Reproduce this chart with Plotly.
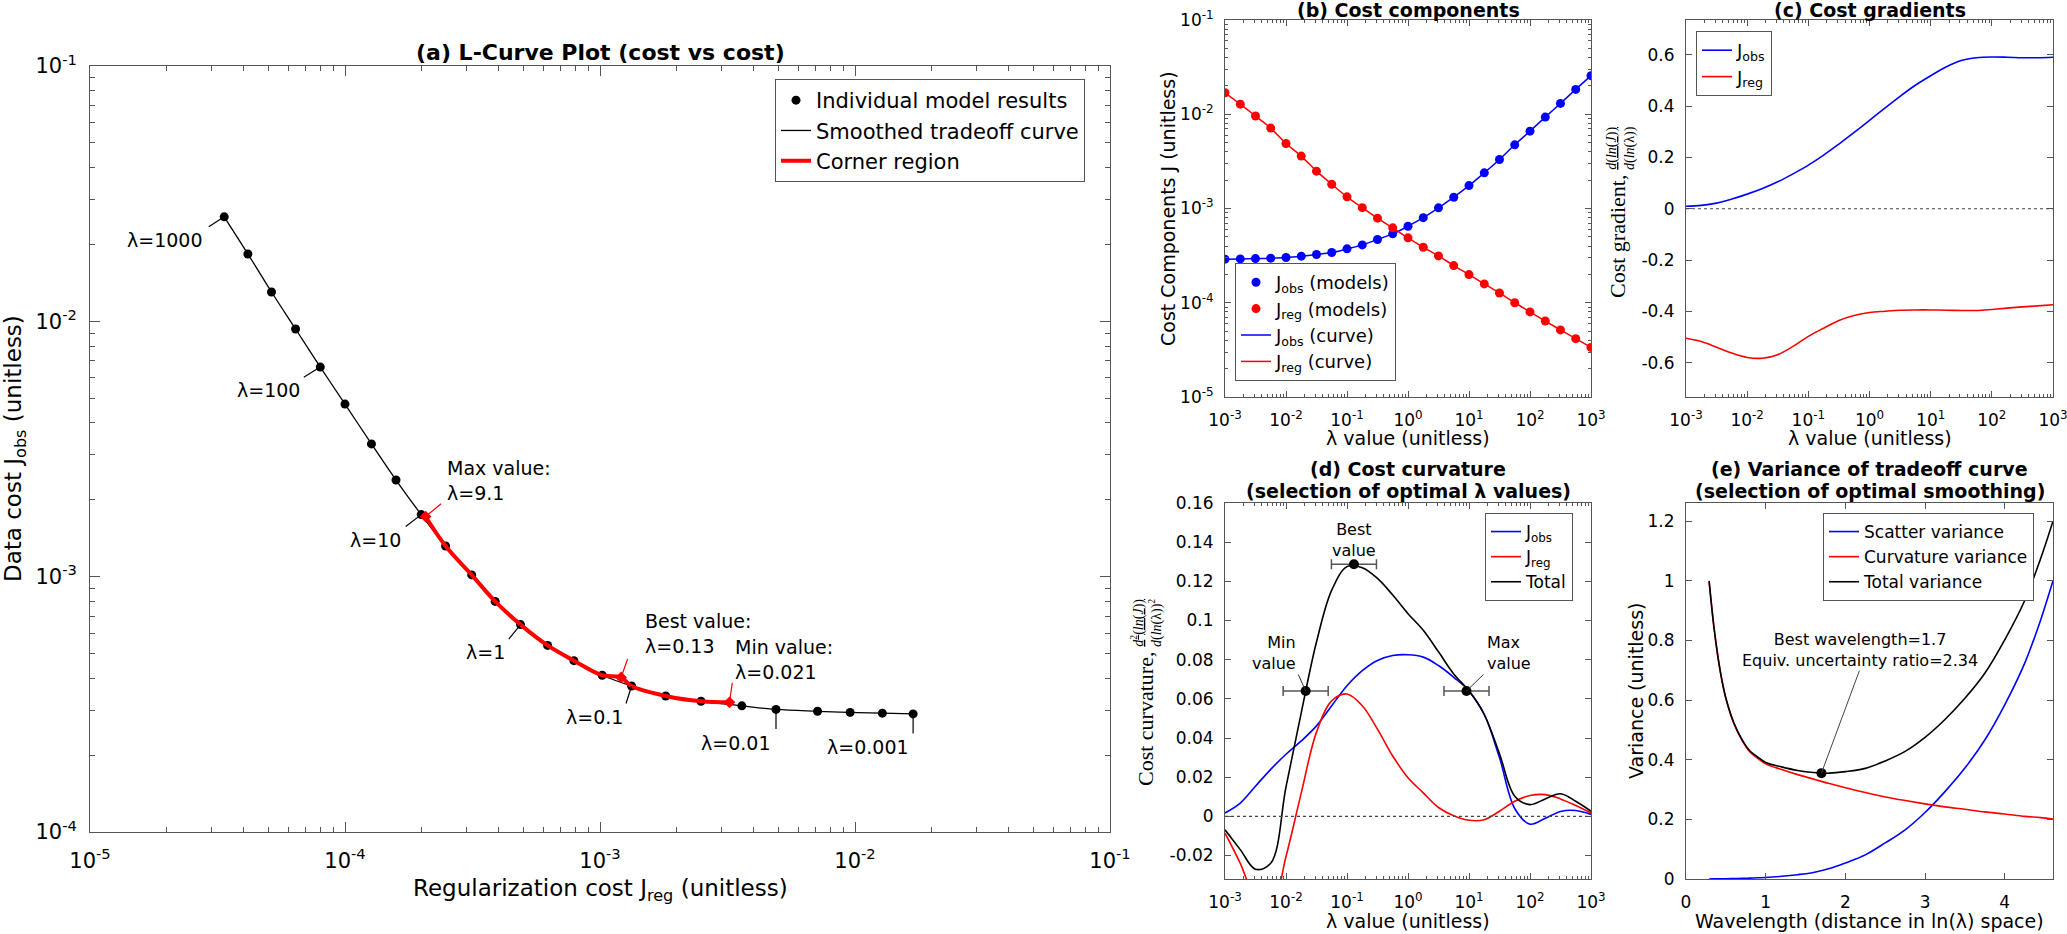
import numpy as np
import plotly.graph_objects as go

FONT = "DejaVu Sans"
SERIF = "Liberation Serif"
W, H = 2067, 934
AXC = "#555555"

# ---- data ----
# lambda of each model run (quarter decades)
lambdas = [0.001, 0.00178, 0.00316, 0.00562, 0.01, 0.0178, 0.0316, 0.0562, 0.1,
           0.178, 0.316, 0.562, 1, 1.78, 3.16, 5.62, 10, 17.8, 31.6, 56.2, 100,
           178, 316, 562, 1000]
j_obs = [2.90e-4, 2.92e-4, 2.94e-4, 2.97e-4, 3.02e-4, 3.12e-4, 3.25e-4, 3.41e-4,
         3.73e-4, 4.11e-4, 4.69e-4, 5.38e-4, 6.49e-4, 8.00e-4, 1.016e-3, 1.318e-3,
         1.75e-3, 2.39e-3, 3.31e-3, 4.74e-3, 6.62e-3, 9.33e-3, 1.303e-2, 1.836e-2,
         2.566e-2]
j_reg = [1.69e-2, 1.28e-2, 9.57e-3, 7.13e-3, 4.90e-3, 3.60e-3, 2.49e-3, 1.81e-3,
         1.33e-3, 1.02e-3, 7.9e-4, 6.23e-4, 4.88e-4, 3.88e-4, 3.14e-4, 2.48e-4,
         1.99e-4, 1.585e-4, 1.27e-4, 1.0e-4, 8.0e-5, 6.4e-5, 5.15e-5, 4.16e-5, 3.36e-5]

corner_lambda = [9.1, 0.13, 0.021]
corner_names = ["Max value:", "Best value:", "Min value:"]
corner_jreg = [2.07e-4, 1.21e-3, 3.22e-3]
corner_jobs = [1.72e-3, 4.03e-4, 3.22e-4]

label_lambda = [1000, 100, 10, 1, 0.1, 0.01, 0.001]
label_text = ["1000", "100", "10", "1", "0.1", "0.01", "0.001"]

grad_obs = [0.010, 0.013, 0.022, 0.038, 0.057, 0.079, 0.105, 0.136, 0.170, 0.209,
            0.252, 0.297, 0.344, 0.392, 0.438, 0.481, 0.518, 0.552, 0.577, 0.588,
            0.591, 0.590, 0.588, 0.588, 0.590]
grad_reg = [-0.504, -0.517, -0.539, -0.562, -0.579, -0.582, -0.568, -0.536, -0.497,
            -0.465, -0.435, -0.416, -0.404, -0.399, -0.395, -0.394, -0.394, -0.395,
            -0.396, -0.396, -0.392, -0.387, -0.382, -0.378, -0.374]

curv_obs = [0.0017, 0.0068, 0.0154, 0.024, 0.0317, 0.0385, 0.0462, 0.0565, 0.0667,
            0.0744, 0.0796, 0.0821, 0.0825, 0.0813, 0.077, 0.071, 0.064, 0.052, 0.030,
            0.004, -0.004, -0.001, 0.0025, 0.003, 0.001]
curv_reg = [-0.0086, -0.024, -0.042, -0.048, -0.0205, 0.012, 0.043, 0.059, 0.0625,
            0.0565, 0.0445, 0.0308, 0.0197, 0.012, 0.0045, 0.0003, -0.002, -0.0017,
            0.0026, 0.0077, 0.0106, 0.0111, 0.0089, 0.0055, 0.0017]
curv_tot = [-0.0069, -0.017, -0.027, -0.024, 0.015, 0.053, 0.089, 0.1155, 0.1275,
            0.127, 0.1215, 0.113, 0.1035, 0.095, 0.084, 0.0727, 0.064, 0.052, 0.032,
            0.0103, 0.006, 0.0089, 0.0115, 0.0077, 0.0026]

sel_lambda = [0.021, 0.13, 9.1]
sel_curv = [0.064, 0.1287, 0.064]
sel_names = ["Min<br>value", "Best<br>value", "Max<br>value"]
uncert_ratio = 2.34

wavelength = [0.29, 0.35, 0.4, 0.45, 0.5, 0.6, 0.7, 0.8, 0.9, 1.0, 1.2, 1.4, 1.6,
              1.8, 2.0, 2.25, 2.5, 2.75, 3.0, 3.25, 3.5, 3.75, 4.0, 4.25, 4.45, 4.606]
var_scatter = [0.0, 0.0003, 0.0005, 0.0007, 0.001, 0.0015, 0.002, 0.003, 0.004,
               0.005, 0.009, 0.0145, 0.022, 0.035, 0.054, 0.081, 0.121, 0.165, 0.223,
               0.293, 0.372, 0.466, 0.584, 0.723, 0.868, 1.0]
var_curv = [0.997, 0.846, 0.746, 0.667, 0.606, 0.522, 0.467, 0.427, 0.405, 0.386,
            0.367, 0.350, 0.335, 0.320, 0.306, 0.290, 0.275, 0.263, 0.252, 0.242,
            0.234, 0.225, 0.218, 0.210, 0.206, 0.201]
var_total = [1.0, 0.846, 0.747, 0.668, 0.607, 0.524, 0.469, 0.430, 0.409, 0.391,
             0.376, 0.364, 0.357, 0.355, 0.360, 0.371, 0.396, 0.428, 0.475, 0.535,
             0.606, 0.690, 0.802, 0.933, 1.074, 1.2]
best_wavelength = 1.7
best_var = 0.355

# tick labels
cost_x_ticks = [1e-5, 1e-4, 1e-3, 1e-2, 1e-1]
cost_x_text = ["10<sup>-5</sup>", "10<sup>-4</sup>", "10<sup>-3</sup>", "10<sup>-2</sup>", "10<sup>-1</sup>"]
cost_y_ticks = [1e-4, 1e-3, 1e-2, 1e-1]
cost_y_text = ["10<sup>-4</sup>", "10<sup>-3</sup>", "10<sup>-2</sup>", "10<sup>-1</sup>"]
lam_ticks = [1e-3, 1e-2, 1e-1, 1, 10, 100, 1000]
lam_text = ["10<sup>-3</sup>", "10<sup>-2</sup>", "10<sup>-1</sup>", "10<sup>0</sup>",
            "10<sup>1</sup>", "10<sup>2</sup>", "10<sup>3</sup>"]
comp_ticks = [1e-5, 1e-4, 1e-3, 1e-2, 1e-1]
comp_text = ["10<sup>-5</sup>", "10<sup>-4</sup>", "10<sup>-3</sup>", "10<sup>-2</sup>", "10<sup>-1</sup>"]
grad_ticks = [-0.6, -0.4, -0.2, 0, 0.2, 0.4, 0.6]
grad_text = ["-0.6", "-0.4", "-0.2", "0", "0.2", "0.4", "0.6"]
curv_ticks = [-0.02, 0, 0.02, 0.04, 0.06, 0.08, 0.1, 0.12, 0.14, 0.16]
curv_text = ["-0.02", "0", "0.02", "0.04", "0.06", "0.08", "0.1", "0.12", "0.14", "0.16"]
wl_ticks = [0, 1, 2, 3, 4]
wl_text = ["0", "1", "2", "3", "4"]
var_ticks = [0, 0.2, 0.4, 0.6, 0.8, 1.0, 1.2]
var_text = ["0", "0.2", "0.4", "0.6", "0.8", "1", "1.2"]


def minor_log(e0, e1):
    return [m * 10.0 ** e for e in range(e0, e1) for m in range(2, 10)]


def px(x):
    return x / W


def py(y):
    return 1 - y / H


def axis(dom, tickvals, ticktext, size, tlen, rng, log=False, minor=None, standoff=8, **kw):
    d = dict(domain=dom, range=rng, type="log" if log else "linear",
             tickmode="array", tickvals=tickvals, ticktext=ticktext,
             showline=True, linecolor=AXC, linewidth=1, mirror="ticks",
             ticks="inside", ticklen=tlen, tickcolor=AXC, tickwidth=1,
             showgrid=False, zeroline=False, automargin=False,
             ticklabelstandoff=standoff, ticklabeloverflow="allow",
             tickfont=dict(family=FONT, size=size, color="black"))
    if minor is not None:
        d["minor"] = dict(tickmode="array", tickvals=minor, ticks="inside",
                          ticklen=max(3, tlen // 2), tickcolor=AXC, tickwidth=1, showgrid=False)
    d.update(kw)
    return d


BLUE, RED = "#0000ff", "#ff0000"
fig = go.Figure()

# ---------------- (a) L-curve ----------------
fig.add_trace(go.Scatter(x=j_reg, y=j_obs, mode="lines", line=dict(color="black", width=1.3, shape="spline"),
                         name="Smoothed tradeoff curve", legend="legend", legendrank=2, xaxis="x", yaxis="y"))
fig.add_trace(go.Scatter(x=j_reg, y=j_obs, mode="markers", marker=dict(color="black", size=9),
                         name="Individual model results", legend="legend", legendrank=1, xaxis="x", yaxis="y"))
lam = np.array(lambdas)
inside = (lam > min(corner_lambda)) & (lam < max(corner_lambda))
c_lam = np.concatenate([lam[inside], corner_lambda])
c_x = np.concatenate([np.array(j_reg)[inside], corner_jreg])
c_y = np.concatenate([np.array(j_obs)[inside], corner_jobs])
order = np.argsort(c_lam)
fig.add_trace(go.Scatter(x=c_x[order], y=c_y[order], mode="lines", line=dict(color=RED, width=4, shape="spline"),
                         name="Corner region", legend="legend", legendrank=3, xaxis="x", yaxis="y"))
fig.add_trace(go.Scatter(x=corner_jreg, y=corner_jobs, mode="markers",
                         marker=dict(color=RED, size=9, symbol="diamond"), showlegend=False, xaxis="x", yaxis="y"))

# ---------------- (b) cost components ----------------
fig.add_trace(go.Scatter(x=lambdas, y=j_obs, mode="markers", marker=dict(color=BLUE, size=9),
                         name="J<sub>obs</sub> (models)", legend="legend2", xaxis="x2", yaxis="y2"))
fig.add_trace(go.Scatter(x=lambdas, y=j_reg, mode="markers", marker=dict(color=RED, size=9),
                         name="J<sub>reg</sub> (models)", legend="legend2", xaxis="x2", yaxis="y2"))
fig.add_trace(go.Scatter(x=lambdas, y=j_obs, mode="lines", line=dict(color=BLUE, width=1.5, shape="spline"),
                         name="J<sub>obs</sub> (curve)", legend="legend2", xaxis="x2", yaxis="y2"))
fig.add_trace(go.Scatter(x=lambdas, y=j_reg, mode="lines", line=dict(color=RED, width=1.5, shape="spline"),
                         name="J<sub>reg</sub> (curve)", legend="legend2", xaxis="x2", yaxis="y2"))

# ---------------- (c) cost gradients ----------------
fig.add_trace(go.Scatter(x=lambdas, y=grad_obs, mode="lines", line=dict(color=BLUE, width=1.6, shape="spline"),
                         name="J<sub>obs</sub>", legend="legend3", xaxis="x3", yaxis="y3"))
fig.add_trace(go.Scatter(x=lambdas, y=grad_reg, mode="lines", line=dict(color=RED, width=1.6, shape="spline"),
                         name="J<sub>reg</sub>", legend="legend3", xaxis="x3", yaxis="y3"))

# ---------------- (d) cost curvature ----------------
fig.add_trace(go.Scatter(x=lambdas, y=curv_obs, mode="lines", line=dict(color=BLUE, width=1.6, shape="spline"),
                         name="J<sub>obs</sub>", legend="legend4", xaxis="x4", yaxis="y4"))
fig.add_trace(go.Scatter(x=lambdas, y=curv_reg, mode="lines", line=dict(color=RED, width=1.6, shape="spline"),
                         name="J<sub>reg</sub>", legend="legend4", xaxis="x4", yaxis="y4"))
fig.add_trace(go.Scatter(x=lambdas, y=curv_tot, mode="lines", line=dict(color="black", width=1.6, shape="spline"),
                         name="Total", legend="legend4", xaxis="x4", yaxis="y4"))
sel = np.array(sel_lambda)
fig.add_trace(go.Scatter(x=sel_lambda, y=sel_curv, mode="markers", marker=dict(color="black", size=10),
                         error_x=dict(type="data", symmetric=False, array=sel * (uncert_ratio - 1),
                                      arrayminus=sel * (1 - 1 / uncert_ratio), color=AXC, thickness=1.5, width=5),
                         showlegend=False, xaxis="x4", yaxis="y4"))

# ---------------- (e) variance ----------------
fig.add_trace(go.Scatter(x=wavelength, y=var_scatter, mode="lines", line=dict(color=BLUE, width=1.6, shape="spline"),
                         name="Scatter variance", legend="legend5", xaxis="x5", yaxis="y5"))
fig.add_trace(go.Scatter(x=wavelength, y=var_curv, mode="lines", line=dict(color=RED, width=1.6, shape="spline"),
                         name="Curvature variance", legend="legend5", xaxis="x5", yaxis="y5"))
fig.add_trace(go.Scatter(x=wavelength, y=var_total, mode="lines", line=dict(color="black", width=1.6, shape="spline"),
                         name="Total variance", legend="legend5", xaxis="x5", yaxis="y5"))
fig.add_trace(go.Scatter(x=[best_wavelength], y=[best_var], mode="markers", marker=dict(color="black", size=10),
                         showlegend=False, xaxis="x5", yaxis="y5"))

# ---------------- annotations ----------------
ann = []


def text_ann(x, y, text, size, xref="paper", yref="paper", bold=False, angle=0, family=FONT,
             xanchor="center", yanchor="middle", align="center", xshift=0, yshift=0):
    if bold:
        text = "<b>" + text + "</b>"
    ann.append(dict(x=x, y=y, xref=xref, yref=yref, text=text, showarrow=False, textangle=angle,
                    font=dict(family=family, size=size, color="black"), xanchor=xanchor,
                    yanchor=yanchor, align=align, xshift=xshift, yshift=yshift))


def leader(x, y, ax, ay, xref, yref, color="black", width=1.2):
    ann.append(dict(x=x, y=y, xref=xref, yref=yref, text="", showarrow=True, arrowhead=0,
                    arrowwidth=width, arrowcolor=color, ax=ax, ay=ay, standoff=0))


# (a) lambda labels
lab_pos = [(-17, 11, -19, -23), (-18, 11, -18, -23), (-17, 13, -18, -25), (-13, 16, -14, -27),
           (-6, 19, -7, -31), (0, 21, -4, -34), (0, 21, -2, -33)]
for lv, lt, (ax_, ay_, xs, ys) in zip(label_lambda, label_text, lab_pos):
    i = int(np.argmin(np.abs(np.log10(lam) - np.log10(lv))))
    xl, yl = np.log10(j_reg[i]), np.log10(j_obs[i])
    leader(xl, yl, ax_, ay_, "x", "y")
    text_ann(xl, yl, "λ=" + lt, 19, "x", "y", xanchor="right", xshift=xs, yshift=ys)

corner_pos = [(17, -14, 19, 36), (7, -20, 22, 44), (3, -21, 3.5, 43)]
for nm, lv, xr, yr, (ax_, ay_, xs, ys) in zip(corner_names, corner_lambda, corner_jreg, corner_jobs, corner_pos):
    xl, yl = np.log10(xr), np.log10(yr)
    leader(xl, yl, ax_, ay_, "x", "y", color=RED)
    text_ann(xl, yl, nm + "<br>λ=" + str(lv), 19, "x", "y", xanchor="left", align="left", xshift=xs, yshift=ys)

# (d) selection labels
sel_pos = [("right", -8, 38, "right"), ("center", 0, 24, "center"), ("left", 18.5, 38, "left")]
for nm, lv, cv, (xa, xs, ys, al) in zip(sel_names, sel_lambda, sel_curv, sel_pos):
    if nm.startswith("Min"):
        leader(np.log10(lv), cv, -8, -18, "x4", "y4", color="#333333", width=1)
    if nm.startswith("Max"):
        leader(np.log10(lv), cv, 18.5, -18, "x4", "y4", color="#333333", width=1)
    text_ann(np.log10(lv), cv, nm, 16, "x4", "y4", xanchor=xa, align=al, xshift=xs, yshift=ys)

# (e) best wavelength
leader(best_wavelength, best_var, 38.5, -104, "x5", "y5", color="#444444", width=1)
text_ann(best_wavelength, best_var,
         "Best wavelength=%.1f<br>Equiv. uncertainty ratio=%.2f" % (best_wavelength, uncert_ratio),
         16, "x5", "y5", xshift=38.5, yshift=123)

# titles
text_ann(px(600), py(53), "(a) L-Curve Plot (cost vs cost)", 22, bold=True)
text_ann(px(1408), py(10), "(b) Cost components", 19, bold=True)
text_ann(px(1869.5), py(10), "(c) Cost gradients", 19, bold=True)
text_ann(px(1408), py(469), "(d) Cost curvature", 19, bold=True)
text_ann(px(1408), py(491), "(selection of optimal λ values)", 19, bold=True)
text_ann(px(1869.5), py(469), "(e) Variance of tradeoff curve", 19, bold=True)
text_ann(px(1869.5), py(491), "(selection of optimal smoothing)", 19, bold=True)

# axis titles
text_ann(px(600), py(873), "Regularization cost J<sub>reg</sub> (unitless)", 23, yanchor="top")
text_ann(px(15), py(449), "Data cost J<sub>obs</sub> (unitless)", 23, angle=-90)
text_ann(px(1408), py(438), "λ value (unitless)", 19)
text_ann(px(1869.5), py(438), "λ value (unitless)", 19)
text_ann(px(1408), py(921), "λ value (unitless)", 19)
text_ann(px(1869.5), py(921), "Wavelength (distance in ln(λ) space)", 19)
text_ann(px(1168), py(209), "Cost Components J (unitless)", 19, angle=-90)
text_ann(px(1636), py(691), "Variance (unitless)", 19, angle=-90)
# serif (TeX-like) labels with stacked fractions
text_ann(px(1618), py(237), "Cost gradient,", 22, angle=-90, family=SERIF)
text_ann(px(1621), py(148),
         "<u><i>d</i>(<i>ln</i>(<i>J</i>))</u><br><i>d</i>(<i>ln</i>(λ))",
         14, angle=-90, family=SERIF)
text_ann(px(1145), py(719), "Cost curvature,", 22, angle=-90, family=SERIF)
text_ann(px(1146), py(623),
         "<u><i>d</i><sup>2</sup>(<i>ln</i>(<i>J</i>))</u><br><i>d</i>(<i>ln</i>(λ))<sup>2</sup>",
         14, angle=-90, family=SERIF)

# dotted zero lines
shapes = [dict(type="line", xref=xr + " domain", x0=0, x1=1, yref=yr, y0=0, y1=0,
               line=dict(color="#444444", width=1.2, dash="dot"))
          for xr, yr in [("x3", "y3"), ("x4", "y4")]]


def legend_box(x, y, size, gap=0):
    return dict(x=px(x), y=py(y), xanchor="left", yanchor="top", bgcolor="white",
                bordercolor=AXC, borderwidth=1, tracegroupgap=gap,
                font=dict(family=FONT, size=size, color="black"))


dom_a = ([px(90), px(1110)], [py(832), py(66)])
dom_bx, dom_cx = [px(1225), px(1591)], [px(1686), px(2053)]
dom_top, dom_bot = [py(397), py(20)], [py(879), py(503)]

fig.update_layout(
    width=W, height=H, margin=dict(l=0, r=0, t=0, b=0),
    paper_bgcolor="white", plot_bgcolor="white", template="none",
    font=dict(family=FONT, color="black"),
    xaxis=axis(dom_a[0], cost_x_ticks, cost_x_text, 21, 10, [-5, -1], log=True,
               minor=minor_log(-5, -1), standoff=10, anchor="y"),
    yaxis=axis(dom_a[1], cost_y_ticks, cost_y_text, 21, 10, [-4, -1], log=True,
               minor=minor_log(-4, -1), standoff=8, anchor="x"),
    xaxis2=axis(dom_bx, lam_ticks, lam_text, 17, 6, [-3, 3], log=True, minor=minor_log(-3, 3),
                standoff=8, anchor="y2"),
    yaxis2=axis(dom_top, comp_ticks, comp_text, 17, 6, [-5, -1], log=True, minor=minor_log(-5, -1),
                standoff=7, anchor="x2"),
    xaxis3=axis(dom_cx, lam_ticks, lam_text, 17, 6, [-3, 3], log=True, minor=minor_log(-3, 3),
                standoff=8, anchor="y3"),
    yaxis3=axis(dom_top, grad_ticks, grad_text, 17, 6, [-0.733, 0.735], standoff=7, anchor="x3"),
    xaxis4=axis(dom_bx, lam_ticks, lam_text, 17, 6, [-3, 3], log=True, minor=minor_log(-3, 3),
                standoff=8, anchor="y4"),
    yaxis4=axis(dom_bot, curv_ticks, curv_text, 17, 6, [-0.032, 0.16], standoff=7, anchor="x4"),
    xaxis5=axis(dom_cx, wl_ticks, wl_text, 17, 6, [0, 4.606], standoff=8, anchor="y5"),
    yaxis5=axis(dom_bot, var_ticks, var_text, 17, 6, [0, 1.261], standoff=7, anchor="x5"),
    legend=legend_box(775, 79, 21),
    legend2=legend_box(1235, 263, 18),
    legend3=legend_box(1696, 31, 18),
    legend4=legend_box(1485, 513, 17),
    legend5=legend_box(1823, 513, 17),
    annotations=ann, shapes=shapes,
)

fig.write_html("out.html", config={"displayModeBar": False},
               post_script="document.body.style.margin='0';")
